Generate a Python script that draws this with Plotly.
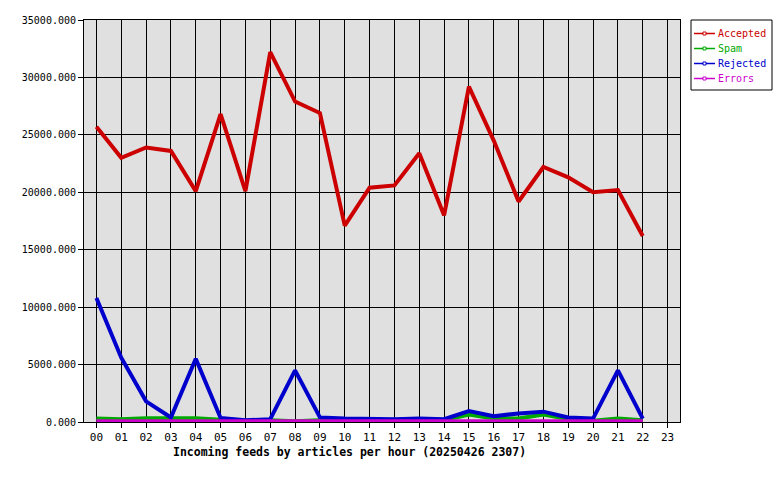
import plotly.graph_objects as go

hours = [f"{h:02d}" for h in range(24)]
accepted = [25700, 23000, 23900, 23600, 20100, 26800, 20100, 32200, 27900, 26900, 17100, 20400,
            20600, 23400, 18000, 29200, 24500, 19200, 22200, 21300, 20000, 20200, 16200]
spam = [300, 250, 330, 330, 330, 200, 100, 150, 60, 150, 150, 150,
        150, 150, 150, 650, 300, 300, 650, 250, 120, 300, 150]
rejected = [10800, 5600, 1800, 400, 5500, 350, 150, 250, 4500, 400, 300, 250,
            250, 300, 250, 950, 500, 750, 900, 400, 300, 4500, 300]
errors = [100, 100, 100, 100, 100, 100, 100, 100, 100, 100, 100, 100,
          100, 100, 100, 100, 100, 100, 100, 100, 100, 100, 100]

series = [
    ("Accepted", accepted, "#cc0000", 4),
    ("Spam", spam, "#00aa00", 4),
    ("Rejected", rejected, "#0000cc", 4),
    ("Errors", errors, "#cc00cc", 3),
]

FONT = "DejaVu Sans Mono"
W, H = 780, 480
ML, MR, MT, MB = 84, 100, 20, 58
PW, PH = W - ML - MR, H - MT - MB

def px(x):
    return (x - ML) / PW

def py(y):
    return 1 - (y - MT) / PH

fig = go.Figure()
xs = list(range(len(accepted)))
for name, vals, col, w in series:
    fig.add_trace(go.Scatter(x=xs, y=vals, mode="lines", line=dict(color=col, width=w),
                             name=name, showlegend=False, hoverinfo="skip"))

shapes = [dict(type="rect", xref="paper", yref="paper",
               x0=px(691), x1=px(772), y0=py(90), y1=py(20),
               line=dict(color="black", width=1), fillcolor="white", layer="above")]
annotations = []
for i, (name, vals, col, w) in enumerate(series):
    yc = 33.5 + 15 * i
    shapes.append(dict(type="line", xref="paper", yref="paper",
                       x0=px(694), x1=px(715), y0=py(yc), y1=py(yc),
                       line=dict(color=col, width=1.5), layer="above"))
    shapes.append(dict(type="rect", xref="paper", yref="paper",
                       x0=px(703), x1=px(706), y0=py(yc + 1.5), y1=py(yc - 1.5),
                       line=dict(color=col, width=1), fillcolor="white", layer="above"))
    annotations.append(dict(text=name, xref="paper", yref="paper", x=px(716), y=py(yc),
                            xanchor="left", yanchor="middle", showarrow=False,
                            font=dict(family=FONT, size=10, color=col)))

annotations.append(dict(text="<b>Incoming feeds by articles per hour (20250426 2307)</b>",
                        xref="paper", yref="paper", x=px(349), y=py(452),
                        xanchor="center", yanchor="middle", showarrow=False,
                        font=dict(family=FONT, size=11.5, color="black")))

fig.update_layout(
    width=W, height=H,
    margin=dict(l=ML, r=MR, t=MT, b=MB, autoexpand=False),
    paper_bgcolor="white", plot_bgcolor="#e0e0e0",
    font=dict(family=FONT, size=10, color="black"),
    showlegend=False,
    shapes=shapes,
    annotations=annotations,
    xaxis=dict(range=[-0.5, 23.5], tickmode="array", tickvals=list(range(24)), ticktext=hours,
               showgrid=True, gridcolor="black", gridwidth=1,
               showline=True, linecolor="black", linewidth=1, mirror=True,
               ticks="outside", ticklen=5, tickcolor="black", zeroline=False,
               automargin=False, tickfont=dict(family=FONT, size=11)),
    yaxis=dict(range=[0, 35000], tickvals=[0, 5000, 10000, 15000, 20000, 25000, 30000, 35000],
               tickformat=".3f",
               showgrid=True, gridcolor="black", gridwidth=1,
               showline=True, linecolor="black", linewidth=1, mirror=True,
               ticks="outside", ticklen=5, tickcolor="black", zeroline=False,
               automargin=False, tickfont=dict(family=FONT, size=10)),
)

fig.write_html("out.html", config={"displayModeBar": False},
               post_script="document.body.style.margin='0';")
